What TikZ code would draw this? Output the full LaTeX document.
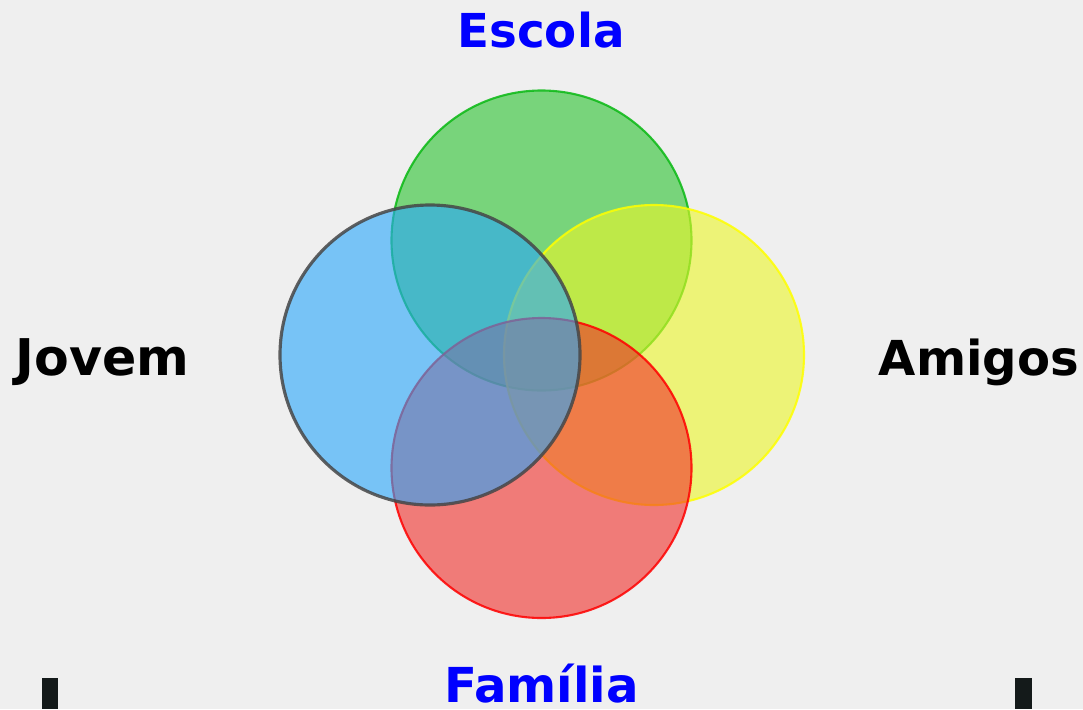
\documentclass[tikz,border=0pt]{standalone}
\usepackage{fontspec}
\setmainfont{DejaVu Sans}
\usepackage{xcolor}
\usepackage{tikz}
\usetikzlibrary{positioning}

\definecolor{bgcol}{RGB}{239,239,239}
\definecolor{escfill}{RGB}{41,194,47}
\definecolor{escline}{RGB}{10,185,20}
\definecolor{jovfill}{RGB}{39,166,252}
\definecolor{jovline}{RGB}{70,70,70}
\definecolor{amifill}{RGB}{237,247,39}
\definecolor{amiline}{RGB}{255,255,0}
\definecolor{famfill}{RGB}{241,46,41}
\definecolor{famline}{RGB}{255,0,0}
\definecolor{barcol}{RGB}{20,26,26}

\tikzset{
    ring/.style={circle, minimum size=3cm, inner sep=0pt, fill opacity=0.6, draw opacity=0.85, line width=0.6pt},
    title/.style={text=blue, anchor=base, inner sep=0pt},
    side/.style={text=black, anchor=base, inner sep=0pt}
}

\begin{document}
\begin{tikzpicture}
    % Background
    \useasboundingbox (0,0) rectangle (10.83,7.09);
    \fill[bgcol] (0,0) rectangle (10.83,7.09);

    % Circles (green, yellow, red, blue from back to front)
    \node[ring, draw=escline, fill=escfill] (escola) at (5.415,4.685) {};
    \node[ring, draw=amiline, fill=amifill] (amigos) at (6.54,3.54) {};
    \node[ring, draw=famline, fill=famfill] (familia) at (5.415,2.41) {};
    \node[ring, draw=jovline, fill=jovfill, line width=0.9pt] (jovem) at (4.30,3.54) {};

    % Labels
    \node[title, font=\fontsize{13.3}{15}\selectfont\bfseries] (escolatxt) at (5.41,6.62) {Escola};
    \node[side, font=\fontsize{14.4}{17}\selectfont\bfseries] (jovemtxt) at (1.025,3.34) {Jovem};
    \node[side, font=\fontsize{13.7}{16}\selectfont\bfseries] (amigostxt) at (9.79,3.34) {Amigos};
    \node[title, font=\fontsize{13.7}{16}\selectfont\bfseries] (familiatxt) at (5.415,0.07) {Família};

    % Bars at the bottom
    \fill[barcol] (0.42,0) rectangle (0.58,0.31);
    \fill[barcol] (10.15,0) rectangle (10.32,0.31);
\end{tikzpicture}
\end{document}
